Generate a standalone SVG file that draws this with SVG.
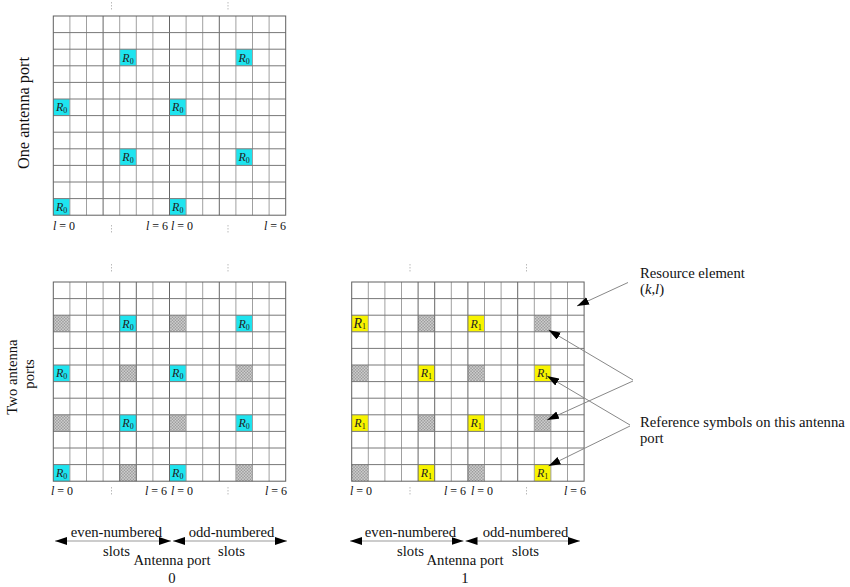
<svg xmlns="http://www.w3.org/2000/svg" width="850" height="587" viewBox="0 0 850 587">
<style>
text{font-family:"Liberation Serif","Times New Roman",serif;fill:#111}
.t{font-size:14.7px}
.rl{font-size:12px;font-style:italic;fill:#222}
.sb{font-size:8px;font-style:normal}
.lab{font-size:12px}
.it{font-style:italic}
.vl{stroke:#a0a0a0;stroke-width:1;fill:none}
.vd{stroke:#666;stroke-width:1;fill:none}
.hl{stroke:#787878;stroke-width:1;fill:none}
.bd{stroke:#606060;stroke-width:1;fill:none}
.c{fill:#1ee4ef}
.y{fill:#f8f400}
.h{fill:url(#hatch)}
.tick{stroke:#bbb;stroke-width:1;stroke-dasharray:1.5 1.5}
.ar{stroke:#888;stroke-width:1;fill:none;marker-end:url(#ah)}
.dim{stroke:#999;stroke-width:1;fill:none;marker-start:url(#ah2);marker-end:url(#ah2)}
</style>
<defs>
<pattern id="hatch" width="3" height="3" patternUnits="userSpaceOnUse">
<rect width="3" height="3" fill="#dcdcdc"/>
<rect width="1.5" height="1.5" fill="#909090"/>
<rect x="1.5" y="1.5" width="1.5" height="1.5" fill="#909090"/>
</pattern>
<marker id="ah" markerUnits="userSpaceOnUse" markerWidth="13" markerHeight="9" refX="12" refY="4" orient="auto">
<path d="M0,0L12,4L0,8z" fill="#000"/>
</marker>
<marker id="ah2" markerUnits="userSpaceOnUse" markerWidth="13" markerHeight="9" refX="12" refY="4" orient="auto-start-reverse">
<path d="M0,0L12,4L0,8z" fill="#000"/>
</marker>
<g id="gridlines">
<path class="vl" d="M16.6,0V199.2M33.2,0V199.2M66.4,0V199.2M83,0V199.2M99.6,0V199.2M132.8,0V199.2M149.4,0V199.2M182.6,0V199.2M199.2,0V199.2M215.8,0V199.2"/>
<path class="vd" d="M49.8,0V199.2M116.2,0V199.2M166,0V199.2"/>
<path class="hl" d="M0,16.6H232.4M0,33.2H232.4M0,49.8H232.4M0,66.4H232.4M0,83H232.4M0,99.6H232.4M0,116.2H232.4M0,132.8H232.4M0,149.4H232.4M0,166H232.4M0,182.6H232.4"/>
<rect class="bd" width="232.4" height="199.2"/>
</g>
<g id="gridlines2">
<path class="vl" d="M16.6,0V199.2M33.2,0V199.2M49.8,0V199.2M99.6,0V199.2M132.8,0V199.2M149.4,0V199.2M182.6,0V199.2M199.2,0V199.2M215.8,0V199.2"/>
<path class="vd" d="M66.4,0V199.2M83,0V199.2M116.2,0V199.2M166,0V199.2"/>
<path class="hl" d="M0,16.6H232.4M0,33.2H232.4M0,49.8H232.4M0,66.4H232.4M0,83H232.4M0,99.6H232.4M0,116.2H232.4M0,132.8H232.4M0,149.4H232.4M0,166H232.4M0,182.6H232.4"/>
<rect class="bd" width="232.4" height="199.2"/>
</g>
</defs>

<rect width="850" height="587" fill="#fff"/>

<!-- Grid 1: one antenna port -->
<g id="grid-one-port" transform="translate(53.3,16)">
<rect class="c" x="66.4" y="33.2" width="16.6" height="16.6"/>
<rect class="c" x="182.6" y="33.2" width="16.6" height="16.6"/>
<rect class="c" x="0" y="83" width="16.6" height="16.6"/>
<rect class="c" x="116.2" y="83" width="16.6" height="16.6"/>
<rect class="c" x="66.4" y="132.8" width="16.6" height="16.6"/>
<rect class="c" x="182.6" y="132.8" width="16.6" height="16.6"/>
<rect class="c" x="0" y="182.6" width="16.6" height="16.6"/>
<rect class="c" x="116.2" y="182.6" width="16.6" height="16.6"/>
<use href="#gridlines"/>
<text class="rl" x="69" y="45.5">R<tspan class="sb" dy="2">0</tspan></text>
<text class="rl" x="185.2" y="45.5">R<tspan class="sb" dy="2">0</tspan></text>
<text class="rl" x="2.6" y="95.3">R<tspan class="sb" dy="2">0</tspan></text>
<text class="rl" x="118.8" y="95.3">R<tspan class="sb" dy="2">0</tspan></text>
<text class="rl" x="69" y="145.1">R<tspan class="sb" dy="2">0</tspan></text>
<text class="rl" x="185.2" y="145.1">R<tspan class="sb" dy="2">0</tspan></text>
<text class="rl" x="2.6" y="194.9">R<tspan class="sb" dy="2">0</tspan></text>
<text class="rl" x="118.8" y="194.9">R<tspan class="sb" dy="2">0</tspan></text>
</g>

<!-- Grid 2: two ports, antenna port 0 -->
<g id="grid-port0" transform="translate(53.3,282)">
<rect class="c" x="66.4" y="33.2" width="16.6" height="16.6"/>
<rect class="c" x="182.6" y="33.2" width="16.6" height="16.6"/>
<rect class="c" x="0" y="83" width="16.6" height="16.6"/>
<rect class="c" x="116.2" y="83" width="16.6" height="16.6"/>
<rect class="c" x="66.4" y="132.8" width="16.6" height="16.6"/>
<rect class="c" x="182.6" y="132.8" width="16.6" height="16.6"/>
<rect class="c" x="0" y="182.6" width="16.6" height="16.6"/>
<rect class="c" x="116.2" y="182.6" width="16.6" height="16.6"/>
<rect class="h" x="0" y="33.2" width="16.6" height="16.6"/>
<rect class="h" x="116.2" y="33.2" width="16.6" height="16.6"/>
<rect class="h" x="66.4" y="83" width="16.6" height="16.6"/>
<rect class="h" x="182.6" y="83" width="16.6" height="16.6"/>
<rect class="h" x="0" y="132.8" width="16.6" height="16.6"/>
<rect class="h" x="116.2" y="132.8" width="16.6" height="16.6"/>
<rect class="h" x="66.4" y="182.6" width="16.6" height="16.6"/>
<rect class="h" x="182.6" y="182.6" width="16.6" height="16.6"/>
<use href="#gridlines2"/>
<text class="rl" x="69" y="45.5">R<tspan class="sb" dy="2">0</tspan></text>
<text class="rl" x="185.2" y="45.5">R<tspan class="sb" dy="2">0</tspan></text>
<text class="rl" x="2.6" y="95.3">R<tspan class="sb" dy="2">0</tspan></text>
<text class="rl" x="118.8" y="95.3">R<tspan class="sb" dy="2">0</tspan></text>
<text class="rl" x="69" y="145.1">R<tspan class="sb" dy="2">0</tspan></text>
<text class="rl" x="185.2" y="145.1">R<tspan class="sb" dy="2">0</tspan></text>
<text class="rl" x="2.6" y="194.9">R<tspan class="sb" dy="2">0</tspan></text>
<text class="rl" x="118.8" y="194.9">R<tspan class="sb" dy="2">0</tspan></text>
</g>

<!-- Grid 3: two ports, antenna port 1 -->
<g id="grid-port1" transform="translate(351.7,282)">
<rect class="y" x="0" y="33.2" width="16.6" height="16.6"/>
<rect class="y" x="116.2" y="33.2" width="16.6" height="16.6"/>
<rect class="y" x="66.4" y="83" width="16.6" height="16.6"/>
<rect class="y" x="182.6" y="83" width="16.6" height="16.6"/>
<rect class="y" x="0" y="132.8" width="16.6" height="16.6"/>
<rect class="y" x="116.2" y="132.8" width="16.6" height="16.6"/>
<rect class="y" x="66.4" y="182.6" width="16.6" height="16.6"/>
<rect class="y" x="182.6" y="182.6" width="16.6" height="16.6"/>
<rect class="h" x="66.4" y="33.2" width="16.6" height="16.6"/>
<rect class="h" x="182.6" y="33.2" width="16.6" height="16.6"/>
<rect class="h" x="0" y="83" width="16.6" height="16.6"/>
<rect class="h" x="116.2" y="83" width="16.6" height="16.6"/>
<rect class="h" x="66.4" y="132.8" width="16.6" height="16.6"/>
<rect class="h" x="182.6" y="132.8" width="16.6" height="16.6"/>
<rect class="h" x="0" y="182.6" width="16.6" height="16.6"/>
<rect class="h" x="116.2" y="182.6" width="16.6" height="16.6"/>
<use href="#gridlines2"/>
<text class="rl" x="1.8" y="46" style="font-size:14px">R<tspan class="sb" dy="1">1</tspan></text>
<text class="rl" x="118.8" y="45.5">R<tspan class="sb" dy="2">1</tspan></text>
<text class="rl" x="69" y="95.3">R<tspan class="sb" dy="2">1</tspan></text>
<text class="rl" x="185.2" y="95.3">R<tspan class="sb" dy="2">1</tspan></text>
<text class="rl" x="2.6" y="145.1">R<tspan class="sb" dy="2">1</tspan></text>
<text class="rl" x="118.8" y="145.1">R<tspan class="sb" dy="2">1</tspan></text>
<text class="rl" x="69" y="194.9">R<tspan class="sb" dy="2">1</tspan></text>
<text class="rl" x="185.2" y="194.9">R<tspan class="sb" dy="2">1</tspan></text>
</g>

<!-- slot tick marks -->
<g id="ticks">
<path class="tick" d="M111.5,2V10M228,2V10M111.5,225V233M228,225V233M111.5,264V272M228,264V272M111.5,487V495M228,487V495M410,264V272M526.5,264V272M410,487V495M526.5,487V495"/>
</g>

<!-- symbol index labels -->
<g id="l-labels" class="lab">
<text x="53" y="230"><tspan class="it">l</tspan> = 0</text>
<text x="168" y="230" text-anchor="end"><tspan class="it">l</tspan> = 6</text>
<text x="171" y="230"><tspan class="it">l</tspan> = 0</text>
<text x="286" y="230" text-anchor="end"><tspan class="it">l</tspan> = 6</text>
<text x="51" y="495"><tspan class="it">l</tspan> = 0</text>
<text x="167" y="495" text-anchor="end"><tspan class="it">l</tspan> = 6</text>
<text x="171" y="495"><tspan class="it">l</tspan> = 0</text>
<text x="287" y="495" text-anchor="end"><tspan class="it">l</tspan> = 6</text>
<text x="350" y="495"><tspan class="it">l</tspan> = 0</text>
<text x="466" y="495" text-anchor="end"><tspan class="it">l</tspan> = 6</text>
<text x="471" y="495"><tspan class="it">l</tspan> = 0</text>
<text x="586" y="495" text-anchor="end"><tspan class="it">l</tspan> = 6</text>
</g>

<!-- side labels -->
<g id="label-one-port">
<text transform="translate(28.5,113) rotate(-90)" text-anchor="middle" style="font-size:16.3px">One antenna port</text>
</g>
<g id="label-two-ports" class="t">
<text transform="translate(16.5,377) rotate(-90)" text-anchor="middle">Two antenna</text>
<text transform="translate(33.5,374) rotate(-90)" text-anchor="middle">ports</text>
</g>

<g id="label-resource-element" class="t">
<text x="640" y="278">Resource element</text>
<text x="640" y="293.5">(<tspan class="it">k</tspan>,<tspan class="it">l</tspan>)</text>
</g>
<g id="label-reference-symbols" class="t">
<text x="640" y="426.5">Reference symbols on this antenna</text>
<text x="640" y="443">port</text>
</g>

<!-- slot labels -->
<g id="slots-port0" class="t" text-anchor="middle">
<text x="116.5" y="536.5">even-numbered</text>
<text x="116.5" y="556">slots</text>
<text x="231.5" y="536.5">odd-numbered</text>
<text x="231.5" y="556">slots</text>
<text x="172" y="565">Antenna port</text>
<text x="172" y="582.5">0</text>
</g>
<g id="slots-port1" class="t" text-anchor="middle">
<text x="410.5" y="536.5">even-numbered</text>
<text x="410.5" y="555.5">slots</text>
<text x="525.5" y="536.5">odd-numbered</text>
<text x="525.5" y="555.5">slots</text>
<text x="465" y="564.5">Antenna port</text>
<text x="465" y="582.5">1</text>
</g>

<!-- connectors -->
<g id="connectors">
<line class="ar" x1="628" y1="282.5" x2="577" y2="306"/>
<line class="ar" x1="633" y1="380" x2="548.5" y2="330"/>
<line class="ar" x1="633" y1="381" x2="547" y2="420"/>
<line class="ar" x1="630" y1="425" x2="547" y2="376"/>
<line class="ar" x1="630" y1="426" x2="548.5" y2="466"/>
<line class="dim" x1="55" y1="541" x2="171" y2="541"/>
<line class="dim" x1="173" y1="541" x2="287" y2="541"/>
<line class="dim" x1="350" y1="541" x2="463.5" y2="541"/>
<line class="dim" x1="465.5" y1="541" x2="580" y2="541"/>
</g>
</svg>
